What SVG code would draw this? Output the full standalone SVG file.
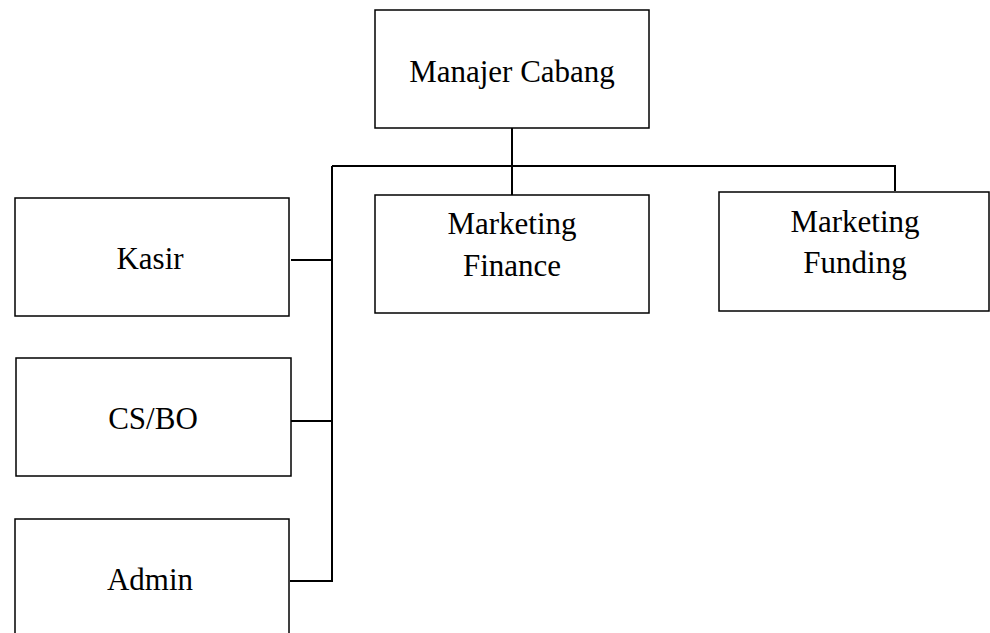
<svg xmlns="http://www.w3.org/2000/svg" width="990" height="633" viewBox="0 0 990 633">
<style>
.box{fill:#fff;stroke:#000;stroke-width:1.5}
.t{font-family:"Liberation Serif","Times New Roman",serif;font-size:31px;fill:#000;text-anchor:middle}
.c{fill:none;stroke:#000;stroke-width:2}
</style>
<rect width="990" height="633" fill="#fff"/>
<g id="connectors">
<path class="c" d="M512 128V196"/>
<path class="c" d="M332 166H895V191"/>
<path class="c" d="M332 166V582"/>
<path class="c" d="M291 260H332"/>
<path class="c" d="M291 421H332"/>
<path class="c" d="M290 581H332"/>
</g>
<g id="manajer-cabang">
<rect class="box" x="375" y="10" width="274" height="118"/>
<text class="t" x="512" y="82">Manajer Cabang</text>
</g>
<g id="marketing-finance">
<rect class="box" x="375" y="195" width="274" height="118"/>
<text class="t" x="512" y="234">Marketing</text>
<text class="t" x="512" y="276">Finance</text>
</g>
<g id="marketing-funding">
<rect class="box" x="719" y="192" width="270" height="119"/>
<text class="t" x="855" y="232">Marketing</text>
<text class="t" x="855" y="273">Funding</text>
</g>
<g id="kasir">
<rect class="box" x="15" y="198" width="274" height="118"/>
<text class="t" x="150" y="269">Kasir</text>
</g>
<g id="cs-bo">
<rect class="box" x="16" y="358" width="275" height="118"/>
<text class="t" x="153" y="429">CS/BO</text>
</g>
<g id="admin">
<rect class="box" x="15" y="519" width="274" height="130"/>
<text class="t" x="150" y="590">Admin</text>
</g>
</svg>
